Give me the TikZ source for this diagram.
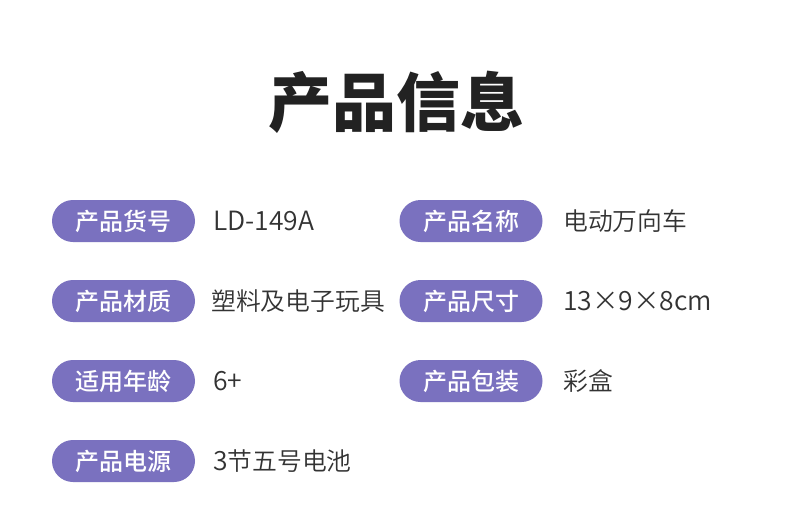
\documentclass[tikz,border=0pt]{standalone}
\usepackage{fontspec}
\setmainfont{Noto Sans CJK SC}
\newfontfamily\cjk{Noto Sans CJK SC}
\newfontfamily\cjkmed{Noto Sans CJK SC Medium}
\newfontfamily\cjklight{Noto Sans CJK SC DemiLight}
\definecolor{pillc}{HTML}{7A71BF}
\definecolor{titlec}{HTML}{222222}
\definecolor{valc}{HTML}{333333}
\begin{document}
\begin{tikzpicture}[x=1pt,y=-1pt,
  pill/.style={fill=pillc,rounded corners=21pt,minimum width=143pt,minimum height=42pt,inner sep=0pt,text=white,font=\cjkmed\fontsize{24}{28}\selectfont},
  val/.style={anchor=west,inner sep=0pt,text=valc,font=\cjklight\fontsize{24.8}{28}\selectfont},
  lat/.style={font=\cjklight\fontsize{26.5}{30}\selectfont}]
\useasboundingbox[fill=white] (0,0) rectangle (790,512);
\node[font=\cjk\bfseries\fontsize{64}{70}\selectfont,text=titlec,inner sep=0pt] (title) at (396,102) {产品信息};
% left column
\node[pill] (p1) at (123.5,221) {产品货号};
\node[val,lat] (v1) at (213,221) {LD-149A};
\node[pill] (p2) at (123.5,301) {产品材质};
\node[val] (v2) at (211,301) {塑料及电子玩具};
\node[pill] (p3) at (123.5,381) {适用年龄};
\node[val,lat] (v3) at (213,381) {6+};
\node[pill] (p4) at (123.5,461) {产品电源};
\node[val] (v4) at (213,461) {{\fontsize{26.5}{30}\selectfont 3}节五号电池};
% right column
\node[pill] (q1) at (471,221) {产品名称};
\node[val] (w1) at (563,221) {电动万向车};
\node[pill] (q2) at (471,301) {产品尺寸};
\node[val,lat] (w2) at (563,301) {13×9×8cm};
\node[pill] (q3) at (471,381) {产品包装};
\node[val] (w3) at (563,381) {彩盒};
\end{tikzpicture}
\end{document}
